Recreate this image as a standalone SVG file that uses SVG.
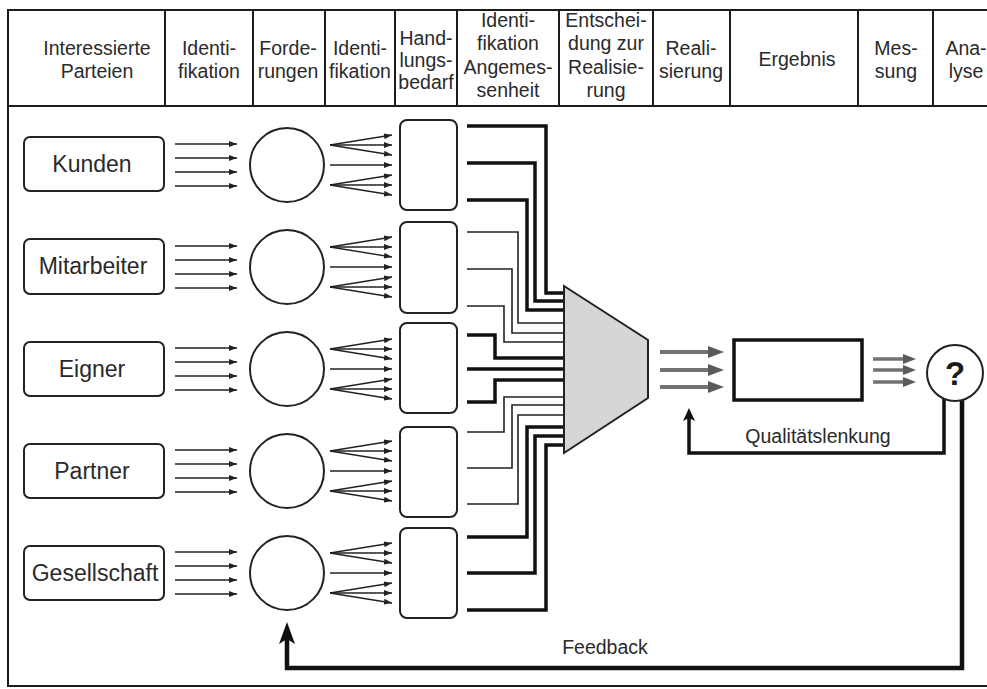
<svg xmlns="http://www.w3.org/2000/svg" width="987" height="689" viewBox="0 0 987 689">
<defs>
<style>
text{font-family:"Liberation Sans",Arial,Helvetica,sans-serif;fill:#2a2a2a;text-anchor:middle}
.hdr{font-size:19.5px}
.lbl{font-size:23px}
.ann{font-size:19.5px}
.frame{fill:#fff;stroke:#1c1c1c;stroke-width:2}
.div{stroke:#1c1c1c;stroke-width:2}
.box{fill:#fff;stroke:#222;stroke-width:2}
.circ{fill:#fff;stroke:#222;stroke-width:2}
.sa line{stroke:#222;stroke-width:1.4;marker-end:url(#sa)}
.thick{stroke:#111;stroke-width:3.5;fill:none;stroke-linejoin:miter}
.thin{stroke:#222;stroke-width:1.6;fill:none;stroke-linejoin:miter}
.ga line{stroke:#727272;stroke-width:4;marker-end:url(#ga)}
.gb line{stroke:#727272;stroke-width:3.5;marker-end:url(#gb)}
.loop{stroke:#111;stroke-width:3.5;fill:none}
.loopw{stroke:#111;stroke-width:4.5;fill:none}
</style>
<marker id="sa" viewBox="0 0 8 6" refX="8" refY="3" markerWidth="8" markerHeight="6" markerUnits="userSpaceOnUse" orient="auto"><path d="M0,0L8,3L0,6z" fill="#222"/></marker>
<marker id="ga" viewBox="0 0 16 12" refX="4" refY="6" markerWidth="16" markerHeight="12" markerUnits="userSpaceOnUse" orient="auto"><path d="M0,0L16,6L0,12z" fill="#5a5a5a"/></marker>
<marker id="gb" viewBox="0 0 13 10" refX="3" refY="5" markerWidth="13" markerHeight="10" markerUnits="userSpaceOnUse" orient="auto"><path d="M0,0L13,5L0,10z" fill="#5a5a5a"/></marker>
<marker id="ba" viewBox="0 0 22 16" refX="12" refY="8" markerWidth="22" markerHeight="16" markerUnits="userSpaceOnUse" orient="auto"><path d="M0,0L22,8L0,16L5,8z" fill="#111"/></marker>
<marker id="bb" viewBox="0 0 13 12" refX="4" refY="6" markerWidth="13" markerHeight="12" markerUnits="userSpaceOnUse" orient="auto"><path d="M0,0L13,6L0,12L3,6z" fill="#111"/></marker>
</defs>

<rect x="0" y="0" width="987" height="689" fill="#fff"/>

<g id="frame">
<rect class="frame" x="8" y="10" width="1000" height="676"/>
<line class="div" x1="8" y1="106" x2="987" y2="106"/>
<line class="div" x1="165" y1="10" x2="165" y2="106"/>
<line class="div" x1="253" y1="10" x2="253" y2="106"/>
<line class="div" x1="325" y1="10" x2="325" y2="106"/>
<line class="div" x1="395" y1="10" x2="395" y2="106"/>
<line class="div" x1="457" y1="10" x2="457" y2="106"/>
<line class="div" x1="559" y1="10" x2="559" y2="106"/>
<line class="div" x1="653" y1="10" x2="653" y2="106"/>
<line class="div" x1="730" y1="10" x2="730" y2="106"/>
<line class="div" x1="858" y1="10" x2="858" y2="106"/>
<line class="div" x1="933" y1="10" x2="933" y2="106"/>
</g>

<g id="header">
<text class="hdr" x="97" y="55">Interessierte</text><text class="hdr" x="97" y="78">Parteien</text>
<text class="hdr" x="209" y="55">Identi-</text><text class="hdr" x="209" y="78">fikation</text>
<text class="hdr" x="288" y="55">Forde-</text><text class="hdr" x="288" y="78">rungen</text>
<text class="hdr" x="360" y="55">Identi-</text><text class="hdr" x="360" y="78">fikation</text>
<text class="hdr" x="426" y="45">Hand-</text><text class="hdr" x="426" y="67">lungs-</text><text class="hdr" x="426" y="89">bedarf</text>
<text class="hdr" x="508" y="27">Identi-</text><text class="hdr" x="508" y="50">fikation</text><text class="hdr" x="508" y="74">Angemes-</text><text class="hdr" x="508" y="97">senheit</text>
<text class="hdr" x="606" y="27">Entschei-</text><text class="hdr" x="606" y="50">dung zur</text><text class="hdr" x="606" y="74">Realisie-</text><text class="hdr" x="606" y="97">rung</text>
<text class="hdr" x="691" y="55">Reali-</text><text class="hdr" x="691" y="78">sierung</text>
<text class="hdr" x="797" y="66">Ergebnis</text>
<text class="hdr" x="896" y="55">Mes-</text><text class="hdr" x="896" y="78">sung</text>
<text class="hdr" x="966" y="55">Ana-</text><text class="hdr" x="966" y="78">lyse</text>
</g>

<g id="connectors">
<g class="sa">
<line x1="175" y1="144" x2="237" y2="144"/><line x1="175" y1="158" x2="237" y2="158"/><line x1="175" y1="172" x2="237" y2="172"/><line x1="175" y1="186" x2="237" y2="186"/>
<line x1="175" y1="246" x2="237" y2="246"/><line x1="175" y1="260" x2="237" y2="260"/><line x1="175" y1="274" x2="237" y2="274"/><line x1="175" y1="288" x2="237" y2="288"/>
<line x1="175" y1="348" x2="237" y2="348"/><line x1="175" y1="362" x2="237" y2="362"/><line x1="175" y1="376" x2="237" y2="376"/><line x1="175" y1="390" x2="237" y2="390"/>
<line x1="175" y1="450" x2="237" y2="450"/><line x1="175" y1="464" x2="237" y2="464"/><line x1="175" y1="478" x2="237" y2="478"/><line x1="175" y1="492" x2="237" y2="492"/>
<line x1="175" y1="552" x2="237" y2="552"/><line x1="175" y1="566" x2="237" y2="566"/><line x1="175" y1="580" x2="237" y2="580"/><line x1="175" y1="594" x2="237" y2="594"/>
</g>
<g class="sa">
<line x1="330" y1="145" x2="392" y2="135"/><line x1="330" y1="145" x2="392" y2="145"/><line x1="330" y1="145" x2="392" y2="155"/><line x1="330" y1="165" x2="392" y2="165"/><line x1="330" y1="185" x2="392" y2="175"/><line x1="330" y1="185" x2="392" y2="185"/><line x1="330" y1="185" x2="392" y2="195"/>
<line x1="330" y1="247" x2="392" y2="237"/><line x1="330" y1="247" x2="392" y2="247"/><line x1="330" y1="247" x2="392" y2="257"/><line x1="330" y1="267" x2="392" y2="267"/><line x1="330" y1="287" x2="392" y2="277"/><line x1="330" y1="287" x2="392" y2="287"/><line x1="330" y1="287" x2="392" y2="297"/>
<line x1="330" y1="349" x2="392" y2="339"/><line x1="330" y1="349" x2="392" y2="349"/><line x1="330" y1="349" x2="392" y2="359"/><line x1="330" y1="369" x2="392" y2="369"/><line x1="330" y1="389" x2="392" y2="379"/><line x1="330" y1="389" x2="392" y2="389"/><line x1="330" y1="389" x2="392" y2="399"/>
<line x1="330" y1="451" x2="392" y2="441"/><line x1="330" y1="451" x2="392" y2="451"/><line x1="330" y1="451" x2="392" y2="461"/><line x1="330" y1="471" x2="392" y2="471"/><line x1="330" y1="491" x2="392" y2="481"/><line x1="330" y1="491" x2="392" y2="491"/><line x1="330" y1="491" x2="392" y2="501"/>
<line x1="330" y1="553" x2="392" y2="543"/><line x1="330" y1="553" x2="392" y2="553"/><line x1="330" y1="553" x2="392" y2="563"/><line x1="330" y1="573" x2="392" y2="573"/><line x1="330" y1="593" x2="392" y2="583"/><line x1="330" y1="593" x2="392" y2="593"/><line x1="330" y1="593" x2="392" y2="603"/>
</g>
<path class="thick" d="M467,126H546V293H566M467,163H535V301H566M467,200H527V310H566"/>
<path class="thin" d="M467,232H518V323H566M467,269H512V333H566M467,306H504V342H566"/>
<path class="thick" d="M467,335H495V358H566M467,369H566M467,402H495V380H566"/>
<path class="thin" d="M467,432H504V397H566M467,468H512V405H566M467,504H518V415H566"/>
<path class="thick" d="M467,537H527V427H566M467,573H535V436H566M467,610H546V445H566"/>
<g class="ga">
<line x1="660" y1="352" x2="712" y2="352"/><line x1="660" y1="370" x2="712" y2="370"/><line x1="660" y1="387" x2="712" y2="387"/>
</g>
<g class="gb">
<line x1="873" y1="359" x2="906" y2="359"/><line x1="873" y1="370" x2="906" y2="370"/><line x1="873" y1="382" x2="906" y2="382"/>
</g>
<path class="loop" d="M944,399V453H689V417" marker-end="url(#bb)"/>
<path class="loopw" d="M962,400V668H287V632" marker-end="url(#ba)"/>
<text class="ann" x="818" y="443">Qualitätslenkung</text>
<text class="ann" x="605" y="654">Feedback</text>
</g>

<g id="kunden"><rect class="box" x="24" y="137" width="140" height="54" rx="6"/><text class="lbl" x="92" y="172">Kunden</text></g>
<g id="mitarbeiter"><rect class="box" x="24" y="239" width="140" height="55" rx="6"/><text class="lbl" x="93" y="274">Mitarbeiter</text></g>
<g id="eigner"><rect class="box" x="24" y="342" width="140" height="54" rx="6"/><text class="lbl" x="92" y="377">Eigner</text></g>
<g id="partner"><rect class="box" x="24" y="444" width="140" height="54" rx="6"/><text class="lbl" x="92" y="479">Partner</text></g>
<g id="gesellschaft"><rect class="box" x="24" y="546" width="140" height="54" rx="6"/><text class="lbl" x="95" y="581">Gesellschaft</text></g>

<g id="forderungen">
<circle class="circ" cx="287" cy="165" r="37"/>
<circle class="circ" cx="287" cy="267" r="37"/>
<circle class="circ" cx="287" cy="369" r="37"/>
<circle class="circ" cx="287" cy="471" r="37"/>
<circle class="circ" cx="287" cy="573" r="37"/>
</g>

<g id="handlungsbedarf">
<rect class="box" x="400" y="120" width="57" height="90" rx="7"/>
<rect class="box" x="400" y="222" width="57" height="91" rx="7"/>
<rect class="box" x="400" y="323" width="57" height="90" rx="7"/>
<rect class="box" x="400" y="427" width="57" height="90" rx="7"/>
<rect class="box" x="400" y="528" width="57" height="90" rx="7"/>
</g>

<g id="entscheidung">
<polygon points="564,286 648,340 648,398 564,453" fill="#d6d6d6" stroke="#222" stroke-width="2"/>
</g>

<g id="ergebnis">
<rect x="734" y="340" width="128" height="60" fill="#fff" stroke="#111" stroke-width="3.5"/>
</g>

<g id="analyse">
<circle class="circ" cx="955" cy="373" r="28"/>
<text x="955" y="385" style="font-size:33px;font-weight:bold;fill:#1a1a1a">?</text>
</g>
</svg>
